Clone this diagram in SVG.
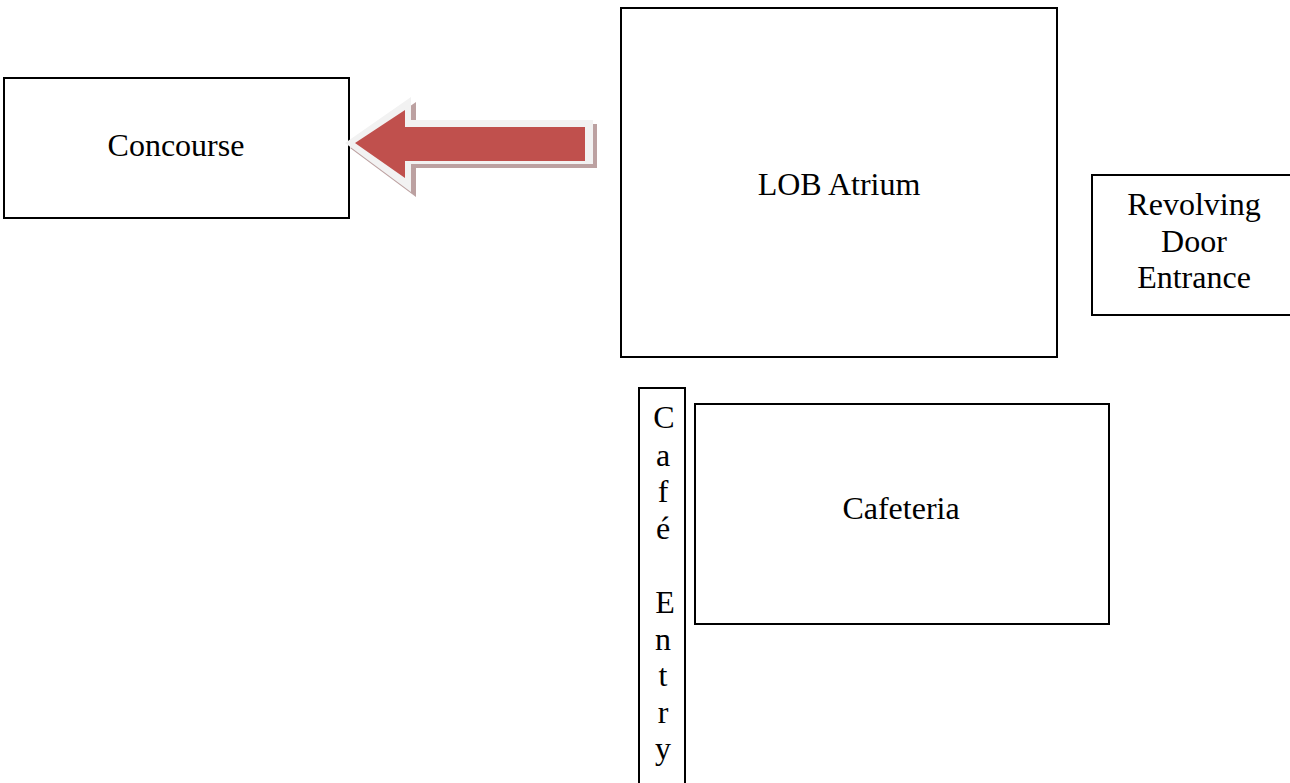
<svg xmlns="http://www.w3.org/2000/svg" width="1290" height="783" viewBox="0 0 1290 783">
<style>
.box{fill:#fff;stroke:#000;stroke-width:2}
.t{font-family:"Liberation Serif","Times New Roman",serif;font-size:32px;fill:#000;text-anchor:middle}
</style>
<rect width="1290" height="783" fill="#fff"/>
<g id="concourse"><rect class="box" x="4" y="78" width="345" height="140"/><text class="t" x="176" y="156">Concourse</text></g>
<g id="lob-atrium"><rect class="box" x="621" y="8" width="436" height="349"/><text class="t" x="839" y="195">LOB Atrium</text></g>
<g id="revolving-door"><rect class="box" x="1092" y="175" width="210" height="140"/><text class="t" x="1194" y="215">Revolving</text><text class="t" x="1194" y="252">Door</text><text class="t" x="1194" y="288">Entrance</text></g>
<g id="cafe-entry"><rect class="box" x="639" y="388" width="46" height="410"/>
<text class="t" x="664" y="428">C</text><text class="t" x="663" y="466">a</text><text class="t" x="663" y="502">f</text><text class="t" x="663" y="539">é</text><text class="t" x="665" y="613">E</text><text class="t" x="663" y="650">n</text><text class="t" x="663" y="686">t</text><text class="t" x="663" y="723">r</text><text class="t" x="663" y="759">y</text></g>
<g id="cafeteria"><rect class="box" x="695" y="404" width="414" height="220"/><text class="t" x="901" y="519">Cafeteria</text></g>
<g id="connectors">
<polygon points="350,148 416,102 416,124 597,124 597,168 416,168 416,197" fill="#b09090" opacity="0.85"/>
<polygon points="345,143 411,97 411,120 593,120 593,164 411,164 411,192" fill="#f2f2f2"/>
<polygon points="355,143 405,110 405,127 585,127 585,161 405,161 405,178" fill="#c0504d"/>
</g>
</svg>
